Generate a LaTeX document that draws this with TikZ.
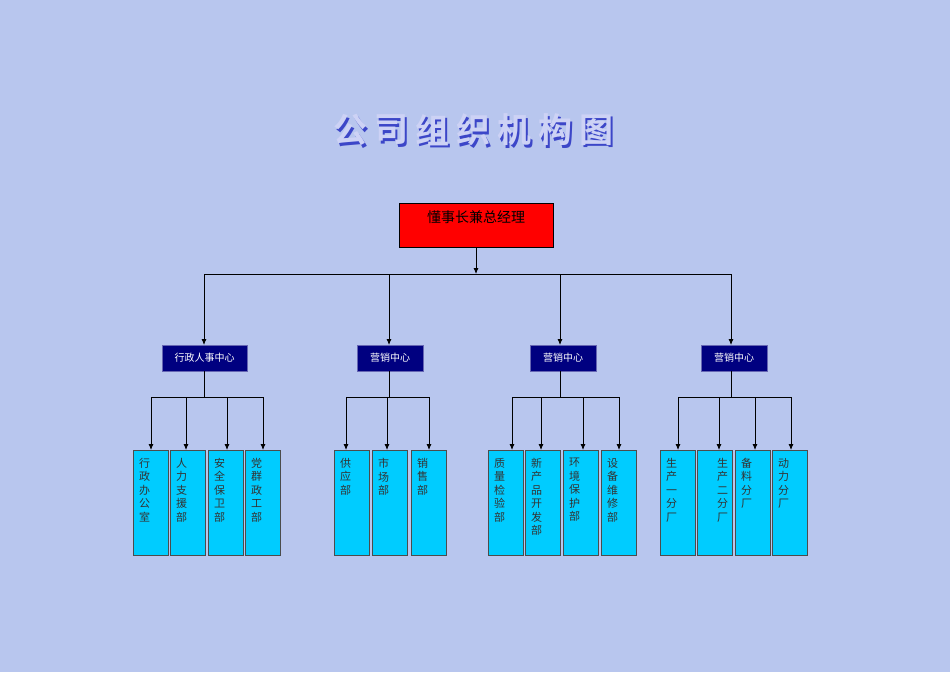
\documentclass[tikz,border=0pt]{standalone}
\usepackage{fontspec}
\newfontfamily\cjk{Noto Sans CJK SC}
\newfontfamily\cjkb{Noto Sans CJK SC Bold}
\definecolor{bg}{RGB}{184,198,238}
\definecolor{cy}{RGB}{0,204,255}
\definecolor{nv}{RGB}{0,0,128}
\definecolor{tb}{RGB}{60,70,200}
\definecolor{tl}{RGB}{205,210,245}
\usetikzlibrary{arrows.meta}
\tikzset{
 x=1pt,y=-1pt,
 conn/.style={draw=black,line width=0.8pt},
 arr/.style={conn,-{Latex[length=6pt,width=5pt]}},
 top/.style={draw=black,fill=red,minimum width=154pt,minimum height=44pt,anchor=north west,inner sep=0pt,outer sep=0pt},
 mid/.style={draw=nv!60!white,fill=nv,minimum height=26pt,anchor=north west,inner sep=0pt,outer sep=0pt,font=\cjk\fontsize{10}{12}\selectfont,text=white},
 leaf/.style={draw=black!70,fill=cy,minimum width=35pt,minimum height=105pt,anchor=north west,inner sep=0pt,outer sep=0pt},
 lt/.style={anchor=north,font=\cjk\fontsize{11}{13}\selectfont,align=center,inner sep=0pt,text=black!80},
 ttl/.style={font=\cjkb\fontsize{34}{40}\selectfont}
}
\begin{document}
\begin{tikzpicture}
\fill[bg] (0,0) rectangle (950,672);
\useasboundingbox (0,0) rectangle (950,672);
% title
\foreach \c [count=\i] in {公,司,组,织,机,构,图}{
 \pgfmathsetmacro\xx{350+41*(\i-1)}
 \node[ttl,text=tb] at (\xx+2.5,132.5) {\c};
 \node[ttl,text=tl] (t\i) at (\xx,130) {\c};
}
% top
\node[top] (ceo) at (399,203) {};
\node[font=\cjk\fontsize{14}{16}\selectfont,anchor=north] (ceot) at (476,207) {懂事长兼总经理};
\coordinate (j0) at (476,274);
\draw[arr] (j0 |- ceo.south) -- (j0);
% mids
\node[mid,minimum width=85pt] (m1) at (162,345) {行政人事中心};
\node[mid,minimum width=66pt] (m2) at (357,345) {营销中心};
\node[mid,minimum width=66pt] (m3) at (530,345) {营销中心};
\node[mid,minimum width=66pt] (m4) at (701,345) {营销中心};
\coordinate (h1) at (204,274); \coordinate (h2) at (389,274);
\coordinate (h3) at (560,274); \coordinate (h4) at (731,274);
\draw[conn] (h1) -- (h4);
\foreach \k in {1,2,3,4}{\draw[arr] (h\k) -- (h\k |- m\k.north);}
% leaves
\newcommand\vt[1]{\parbox{12pt}{\centering\baselineskip=13.5pt #1}}
\newcommand\leafbox[5]{% name, x, arrow x, text, text shift
 \node[leaf] (#1) at (#2,450) {};
 \node[lt] at ([xshift=#5,yshift=-8pt]#1.north) {\vt{#4}};
 \coordinate (#1a) at (#3,397);
 \draw[arr] (#1a) -- (#1a |- #1.north);}
\newcommand\hub[4]{% mid, x, left, right
 \coordinate (#1b) at (#2,397);
 \draw[conn] (#1b |- #1.south) -- (#1b);
 \draw[conn] (#3,397) -- (#4,397);}
\hub{m1}{204}{151}{263}
\leafbox{a1}{133}{151}{行\\政\\办\\公\\室}{-6pt}
\leafbox{a2}{170}{186}{人\\力\\支\\援\\部}{-6pt}
\leafbox{a3}{208}{227}{安\\全\\保\\卫\\部}{-6pt}
\leafbox{a4}{245}{263}{党\\群\\政\\工\\部}{-6pt}
\hub{m2}{389}{346}{429}
\leafbox{b1}{334}{346}{供\\应\\部}{-6pt}
\leafbox{b2}{372}{387}{市\\场\\部}{-6pt}
\leafbox{b3}{411}{429}{销\\售\\部}{-6pt}
\hub{m3}{560}{512}{619}
\leafbox{c1}{488}{512}{质\\量\\检\\验\\部}{-6pt}
\leafbox{c2}{525}{541}{新\\产\\品\\开\\发\\部}{-6pt}
\leafbox{c3}{563}{583}{环\\境\\保\\护\\部}{-6pt}
\leafbox{c4}{601}{619}{设\\备\\维\\修\\部}{-6pt}
\hub{m4}{731}{678}{791}
\leafbox{d1}{660}{678}{生\\产\\一\\分\\厂}{-6pt}
\leafbox{d2}{697}{719}{生\\产\\二\\分\\厂}{8pt}
\leafbox{d3}{735}{755}{备\\料\\分\\厂}{-6pt}
\leafbox{d4}{772}{791}{动\\力\\分\\厂}{-6pt}
\end{tikzpicture}
\end{document}
